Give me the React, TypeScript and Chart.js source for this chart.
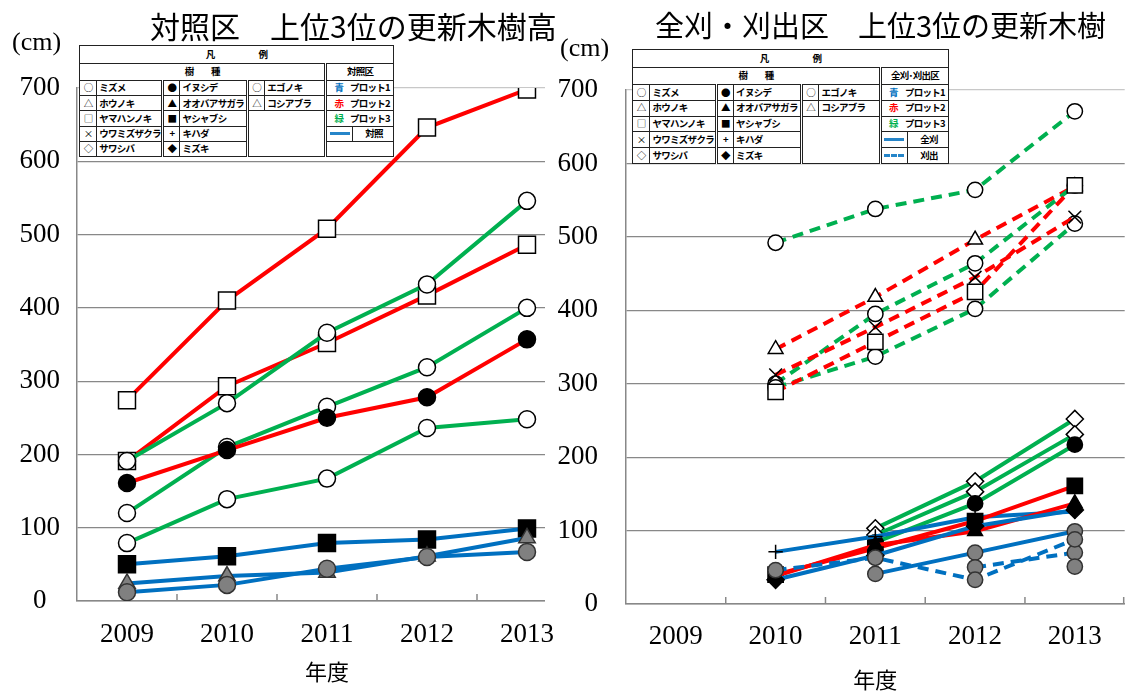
import React, { useEffect, useRef } from "react";
import { Chart, registerables } from "chart.js";

Chart.register(...registerables);

// ---------- shared categories / ticks ----------
const years = ["2009", "2010", "2011", "2012", "2013"];
const yTickValues = [0, 100, 200, 300, 400, 500, 600, 700];

// ---------- left chart: 対照区 ----------
const ctlRedSquareA = [274, 410, 508, 646, 698];
const ctlRedSquareB = [191, 293, 352, 417, 486];
const ctlRedDot = [161, 206, 250, 278, 357];
const ctlGreenCircleA = [191, 270, 366, 432, 546];
const ctlGreenCircleB = [120, 210, 265, 319, 400];
const ctlGreenCircleC = [79, 139, 167, 236, 248];
const ctlBlueSquare = [50, 61, 79, 84, 99];
const ctlBlueTriangle = [24, 34, 39, 61, 86];
const ctlBlueCircle = [12, 22, 44, 60, 67];

// ---------- right chart: 全刈・刈出区 ----------
// 刈出 (dashed)
const cutGreenCircleA = [null, 492, 538, 564, 671];
const cutGreenCircleB = [null, 300, 395, 464, 570];
const cutGreenCircleC = [null, 295, 337, 402, 518];
const cutRedTriangle = [null, 347, 418, 496, 569];
const cutRedCross = [null, 312, 377, 445, 527];
const cutRedSquare = [null, 289, 357, 425, 570];
const cutBlueGrayA = [null, 46, 63, 33, 88];
const cutBlueGrayB = [null, null, null, 50, 70];
// 全刈 (solid)
const allGreenDiamondA = [null, null, 103, 167, 252];
const allGreenDiamondB = [null, null, 94, 153, 231];
const allGreenDot = [null, null, 84, 137, 217];
const allRedSquare = [null, 40, 76, 113, 161];
const allRedTriangle = [null, 38, 80, 99, 137];
const allBluePlus = [null, 71, 92, 118, 126];
const allBlueDiamond = [null, 33, 66, 106, 128];
const allBlueGray = [null, null, 41, 70, 99];
const loneGray = [null, null, null, null, 51];

const BLUE = "#0070C0";
const RED = "#FF0000";
const GREEN = "#00B050";

type Marker = "circle" | "triangle" | "rect" | "cross" | "crossRot" | "rectRot";
type Fill = "open" | "solid" | "gray";
interface Series {
  data: (number | null)[];
  color: string | null;
  marker: Marker;
  fill: Fill;
  dashed?: boolean;
}

const leftSeries: Series[] = [
  { data: ctlBlueCircle, color: BLUE, marker: "circle", fill: "gray" },
  { data: ctlBlueTriangle, color: BLUE, marker: "triangle", fill: "gray" },
  { data: ctlBlueSquare, color: BLUE, marker: "rect", fill: "solid" },
  { data: ctlRedDot, color: RED, marker: "circle", fill: "solid" },
  { data: ctlGreenCircleC, color: GREEN, marker: "circle", fill: "open" },
  { data: ctlGreenCircleB, color: GREEN, marker: "circle", fill: "open" },
  { data: ctlGreenCircleA, color: GREEN, marker: "circle", fill: "open" },
  { data: ctlRedSquareB, color: RED, marker: "rect", fill: "open" },
  { data: ctlRedSquareA, color: RED, marker: "rect", fill: "open" },
];

const rightSeries: Series[] = [
  { data: loneGray, color: null, marker: "circle", fill: "gray" },
  { data: cutBlueGrayA, color: BLUE, marker: "circle", fill: "gray", dashed: true },
  { data: cutBlueGrayB, color: BLUE, marker: "circle", fill: "gray", dashed: true },
  { data: allBlueGray, color: BLUE, marker: "circle", fill: "gray" },
  { data: allBlueDiamond, color: BLUE, marker: "rectRot", fill: "solid" },
  { data: allRedTriangle, color: RED, marker: "triangle", fill: "solid" },
  { data: allRedSquare, color: RED, marker: "rect", fill: "solid" },
  { data: allBluePlus, color: BLUE, marker: "cross", fill: "open" },
  { data: allGreenDot, color: GREEN, marker: "circle", fill: "solid" },
  { data: allGreenDiamondB, color: GREEN, marker: "rectRot", fill: "open" },
  { data: allGreenDiamondA, color: GREEN, marker: "rectRot", fill: "open" },
  { data: cutRedSquare, color: RED, marker: "rect", fill: "open", dashed: true },
  { data: cutRedCross, color: RED, marker: "crossRot", fill: "open", dashed: true },
  { data: cutGreenCircleC, color: GREEN, marker: "circle", fill: "open", dashed: true },
  { data: cutGreenCircleB, color: GREEN, marker: "circle", fill: "open", dashed: true },
  { data: cutRedTriangle, color: RED, marker: "triangle", fill: "open", dashed: true },
  { data: cutGreenCircleA, color: GREEN, marker: "circle", fill: "open", dashed: true },
];

const radiusFor: Record<Marker, number> = {
  circle: 8.5,
  triangle: 9.5,
  rect: 12,
  cross: 8,
  crossRot: 10,
  rectRot: 9.5,
};

const AXIS = "#888888";
const NUM_FONT = "'Liberation Serif', 'DejaVu Serif', serif";
const JP_FONT = "'Noto Sans CJK JP', 'Noto Sans', sans-serif";

const innerTicks = {
  id: "innerTicks",
  beforeDatasetsDraw(chart: any) {
    const xs = chart.scales.x;
    const { ctx, chartArea } = chart;
    ctx.save();
    ctx.strokeStyle = AXIS;
    ctx.lineWidth = 1.5;
    const n = years.length;
    for (let i = 1; i <= n; i++) {
      const x =
        i < n
          ? (xs.getPixelForValue(i - 1) + xs.getPixelForValue(i)) / 2
          : chartArea.right - 1;
      ctx.beginPath();
      ctx.moveTo(x, chartArea.bottom);
      ctx.lineTo(x, chartArea.bottom - 7);
      ctx.stroke();
    }
    ctx.restore();
  },
};

function makeDatasets(series: Series[], scale: number) {
  return series.map((s, i) => {
    const bg = s.fill === "open" ? "#ffffff" : s.fill === "solid" ? "#000000" : "#808080";
    const bd = s.fill === "gray" ? "#333333" : "#000000";
    return {
      label: "s" + i,
      data: s.data,
      borderColor: s.color ?? "rgba(0,0,0,0)",
      borderWidth: s.color ? 4 : 0,
      borderDash: s.dashed ? [11, 7] : [],
      showLine: !!s.color,
      tension: 0,
      spanGaps: false,
      pointStyle: s.marker,
      pointRadius: radiusFor[s.marker] * scale,
      pointHoverRadius: radiusFor[s.marker] * scale,
      pointBackgroundColor: bg,
      pointBorderColor: bd,
      pointBorderWidth: 1.5,
    };
  });
}

interface ChartOpts {
  padTop: number;
  padRight: number;
  yWidth: number;
  xHeight: number;
  tickPad: number;
  crossAlign: "near" | "center" | "far";
  xLabelPad: number;
  xTitleBottom: number;
  markerScale: number;
}

function makeConfig(series: Series[], o: ChartOpts): any {
  return {
    type: "line",
    data: { labels: years, datasets: makeDatasets(series, o.markerScale) },
    plugins: [innerTicks],
    options: {
      animation: false,
      responsive: true,
      maintainAspectRatio: false,
      events: [],
      layout: { padding: { top: o.padTop, right: o.padRight, left: 0, bottom: 0 } },
      plugins: { legend: { display: false }, tooltip: { enabled: false }, title: { display: false } },
      scales: {
        x: {
          type: "category",
          offset: true,
          grid: { display: false, drawTicks: false },
          border: { display: true, color: AXIS, width: 1.5 },
          ticks: {
            color: "#000",
            padding: o.xLabelPad,
            maxRotation: 0,
            autoSkip: false,
            font: { family: NUM_FONT, size: 27 },
          },
          title: {
            display: true,
            text: "年度",
            color: "#000",
            font: { family: JP_FONT, size: 22, lineHeight: 1.0 },
            padding: { top: 0, bottom: o.xTitleBottom },
          },
          afterFit(scale: any) {
            scale.height = o.xHeight;
          },
        },
        y: {
          min: 0,
          max: 700,
          afterBuildTicks(scale: any) {
            scale.ticks = yTickValues.map((v) => ({ value: v }));
          },
          grid: {
            drawTicks: false,
            color: (ctx: any) => (ctx.tick && ctx.tick.value === 700 ? "#c8c8c8" : AXIS),
            lineWidth: 1.2,
          },
          border: { display: true, color: AXIS, width: 1.5 },
          ticks: {
            color: "#000",
            padding: o.tickPad,
            crossAlign: o.crossAlign,
            font: { family: NUM_FONT, size: 27 },
          },
          afterFit(scale: any) {
            scale.width = o.yWidth;
          },
        },
      },
    },
  };
}

function ChartBox(props: {
  series: Series[];
  opts: ChartOpts;
  style: React.CSSProperties;
}) {
  const ref = useRef<HTMLCanvasElement | null>(null);
  useEffect(() => {
    if (!ref.current) return;
    const chart = new Chart(ref.current, makeConfig(props.series, props.opts));
    return () => chart.destroy();
  }, []);
  return (
    <div style={{ position: "absolute", ...props.style }}>
      <canvas ref={ref} />
    </div>
  );
}

const species1 = [
  ["○", "ミズメ"],
  ["△", "ホウノキ"],
  ["□", "ヤマハンノキ"],
  ["×", "ウワミズザクラ"],
  ["◇", "サワシバ"],
];
const species2 = [
  ["●", "イヌシデ"],
  ["▲", "オオバアサガラ"],
  ["■", "ヤシャブシ"],
  ["+", "キハダ"],
  ["◆", "ミズキ"],
];
const species3 = [
  ["○", "エゴノキ"],
  ["△", "コシアブラ"],
];
const plotRows = [
  ["青", BLUE, "プロット1"],
  ["赤", RED, "プロット2"],
  ["緑", GREEN, "プロット3"],
];

function LegendTable(props: {
  left: number;
  top: number;
  width: number;
  height: number;
  areaName: string;
  lineRows: { label: string; dashed: boolean }[];
}) {
  const bd = "1px solid #222";
  const dbl = "3px double #222";
  const rowH = (props.height - 30) / 5;
  const cell = (extra: React.CSSProperties = {}): React.CSSProperties => ({
    border: bd,
    padding: "0 0 0 2px",
    height: rowH,
    whiteSpace: "nowrap",
    overflow: "hidden",
    ...extra,
  });
  const symCell = (extra: React.CSSProperties = {}) => cell({ textAlign: "center", padding: 0, ...extra });
  const rows = [0, 1, 2, 3, 4];
  const lineSample = (dashed: boolean) => (
    <div
      style={{
        width: 20,
        margin: "0 auto",
        borderTop: dashed ? "3px dashed " + BLUE : "3px solid " + BLUE,
        opacity: 0.85,
      }}
    />
  );
  return (
    <table
      style={{
        position: "absolute",
        left: props.left,
        top: props.top,
        width: props.width,
        height: props.height,
        borderCollapse: "collapse",
        tableLayout: "fixed",
        background: "#fff",
        fontFamily: JP_FONT,
        fontSize: 9.5,
        fontWeight: 700,
        letterSpacing: -0.7,
        lineHeight: 1,
        color: "#000",
        border: "1.5px solid #222",
        zIndex: 5,
      }}
    >
      <colgroup>
        <col style={{ width: "5.5%" }} />
        <col style={{ width: "21%" }} />
        <col style={{ width: "5.5%" }} />
        <col style={{ width: "21.5%" }} />
        <col style={{ width: "5.5%" }} />
        <col style={{ width: "19.5%" }} />
        <col style={{ width: "8.5%" }} />
        <col style={{ width: "13%" }} />
      </colgroup>
      <tbody>
        <tr>
          <td colSpan={8} style={{ border: bd, textAlign: "center", height: 15, color: "#000" }}>
            凡　　　　　例
          </td>
        </tr>
        <tr>
          <td colSpan={6} style={{ border: bd, borderRight: dbl, textAlign: "center", height: 14 }}>
            樹　　種
          </td>
          <td colSpan={2} style={{ border: bd, textAlign: "center" }}>
            {props.areaName}
          </td>
        </tr>
        {rows.map((r) => (
          <tr key={r}>
            <td style={symCell({ fontWeight: 400 })}>{species1[r][0]}</td>
            <td style={cell({ borderRight: dbl })}>{species1[r][1]}</td>
            <td style={symCell()}>{species2[r][0]}</td>
            <td style={cell({ borderRight: dbl })}>{species2[r][1]}</td>
            {r < 2 ? (
              <>
                <td style={symCell({ fontWeight: 400 })}>{species3[r][0]}</td>
                <td style={cell({ borderRight: dbl })}>{species3[r][1]}</td>
              </>
            ) : r === 2 ? (
              <td colSpan={2} rowSpan={3} style={cell({ borderRight: dbl })} />
            ) : null}
            {r < 3 ? (
              <td colSpan={2} style={cell({ padding: "0 3px" })}>
                <span style={{ color: plotRows[r][1], marginLeft: 4 }}>{plotRows[r][0]}</span>
                <span style={{ float: "right" }}>{plotRows[r][2]}</span>
              </td>
            ) : props.lineRows[r - 3] ? (
              <>
                <td style={symCell()}>{lineSample(props.lineRows[r - 3].dashed)}</td>
                <td style={cell({ textAlign: "center" })}>{props.lineRows[r - 3].label}</td>
              </>
            ) : (
              <td colSpan={2} style={cell()} />
            )}
          </tr>
        ))}
      </tbody>
    </table>
  );
}

const leftOpts: ChartOpts = {
  padTop: 88,
  padRight: 23,
  yWidth: 77,
  xHeight: 91,
  tickPad: 17,
  crossAlign: "center",
  xLabelPad: 18,
  xTitleBottom: 9,
  markerScale: 1,
};

const rightOpts: ChartOpts = {
  padTop: 90,
  padRight: 1,
  yWidth: 81,
  xHeight: 88,
  tickPad: 28,
  crossAlign: "near",
  xLabelPad: 17,
  xTitleBottom: 1,
  markerScale: 0.9,
};

export default function App() {
  return (
    <div
      style={{
        position: "fixed",
        left: 0,
        top: 0,
        width: 1137,
        height: 692,
        background: "#fff",
        overflow: "hidden",
      }}
    >
      <ChartBox series={leftSeries} opts={leftOpts} style={{ left: 0, top: 0, width: 600, height: 692 }} />
      <ChartBox
        series={rightSeries}
        opts={rightOpts}
        style={{
          left: 545,
          top: 0,
          width: 592,
          height: 692,
          background: "linear-gradient(#fff 0px, #fff 606px, rgba(255,255,255,0) 606px)",
        }}
      />
      <div
        style={{
          position: "absolute",
          left: 150,
          top: 3,
          width: 400,
          textAlign: "center",
          fontFamily: JP_FONT,
          fontSize: 30,
          whiteSpace: "nowrap",
          zIndex: 6,
        }}
      >
        対照区　上位3位の更新木樹高
      </div>
      <div
        style={{
          position: "absolute",
          left: 655,
          top: 3,
          fontFamily: JP_FONT,
          fontSize: 29,
          whiteSpace: "nowrap",
          zIndex: 6,
        }}
      >
        全刈・刈出区　上位3位の更新木樹
      </div>
      <div style={{ position: "absolute", left: 12, top: 27, fontFamily: NUM_FONT, fontSize: 26, zIndex: 6 }}>
        (cm)
      </div>
      <div style={{ position: "absolute", left: 560, top: 33, fontFamily: NUM_FONT, fontSize: 26, zIndex: 6 }}>
        (cm)
      </div>
      <LegendTable
        left={79}
        top={45}
        width={315}
        height={101}
        areaName="対照区"
        lineRows={[{ label: "対照", dashed: false }]}
      />
      <LegendTable
        left={632}
        top={49}
        width={317}
        height={104}
        areaName="全刈･刈出区"
        lineRows={[
          { label: "全刈", dashed: false },
          { label: "刈出", dashed: true },
        ]}
      />
    </div>
  );
}
